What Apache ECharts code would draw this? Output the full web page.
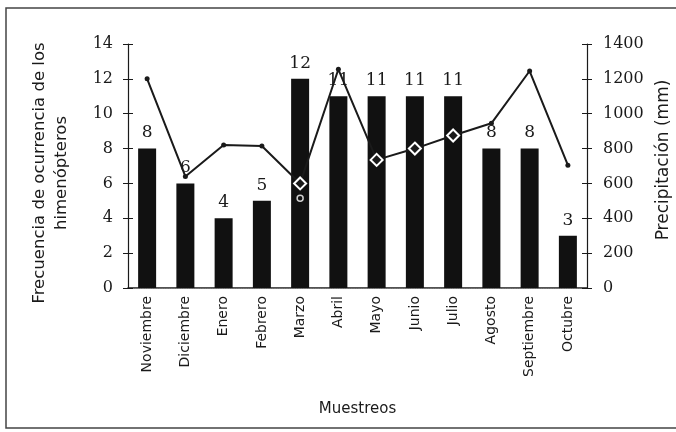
<!DOCTYPE html>
<html>
<head>
<meta charset="utf-8">
<script src="https://cdn.jsdelivr.net/npm/echarts@6/dist/echarts.min.js"></script>
<style>html,body{margin:0;padding:0;background:#fff}#c{width:676px;height:432px}</style>
</head>
<body>
<div id="c"></div>
<script>
var categories = ['Noviembre','Diciembre','Enero','Febrero','Marzo','Abril','Mayo','Junio','Julio','Agosto','Septiembre','Octubre'];
var frecuencia = [8, 6, 4, 5, 12, 11, 11, 11, 11, 8, 8, 3];
var precipitacion = [1200, 640, 820, 815, 600, 1255, 735, 800, 875, 945, 1245, 705];
var markerKinds = ['dot','dot','dot','dot','diamond','dot','diamond','diamond','diamond','dot','dot','dot'];
var extraPoint = [['Marzo', 515]];
var leftTicks = [0, 2, 4, 6, 8, 10, 12, 14];
var rightTicks = [0, 200, 400, 600, 800, 1000, 1200, 1400];

var serif = '"DejaVu Serif", serif';
var sans = '"DejaVu Sans", sans-serif';
var ink = '#1a1a1a';

var lineData = precipitacion.map(function (v, i) {
  var d = markerKinds[i] === 'diamond';
  return {
    value: v,
    symbol: d ? 'diamond' : 'circle',
    symbolSize: d ? 12 : 5,
    itemStyle: d ? {color: ink, borderColor: '#fff', borderWidth: 2} : {color: ink, borderColor: ink, borderWidth: 0}
  };
});

var chart = echarts.init(document.getElementById('c'));
chart.setOption({
  animation: false,
  backgroundColor: '#fff',
  graphic: [{
    type: 'polyline',
    shape: {points: [[680, 8], [6, 8], [6, 428], [680, 428]]},
    style: {stroke: '#444', lineWidth: 1.5, fill: null},
    silent: true
  }],
  grid: {left: 128, right: 89, top: 44, bottom: 144, containLabel: false, outerBoundsMode: 'none'},
  xAxis: [{
    type: 'category',
    data: categories,
    axisLine: {lineStyle: {color: ink, width: 1.5}},
    axisTick: {show: false},
    axisLabel: {rotate: 90, fontFamily: sans, fontSize: 14, color: ink, margin: 8},
    name: 'Muestreos',
    nameLocation: 'middle',
    nameGap: 114,
    nameTextStyle: {fontFamily: sans, fontSize: 15, color: ink}
  }, {
    type: 'category',
    data: categories,
    position: 'top',
    axisLine: {lineStyle: {color: '#777', width: 1.2, type: 'dotted'}},
    axisTick: {show: false},
    axisLabel: {show: false}
  }],
  yAxis: [{
    type: 'value', min: 0, max: 14, interval: 2,
    position: 'left',
    axisLine: {show: true, lineStyle: {color: ink, width: 1.2}},
    axisTick: {show: true, length: 5, lineStyle: {color: ink}},
    splitLine: {show: false},
    axisLabel: {fontFamily: serif, fontSize: 16, color: ink, margin: 15,
      formatter: function (v) { return leftTicks.indexOf(v) >= 0 ? String(v) : ''; }},
    name: 'Frecuencia de ocurrencia de los\nhimenópteros',
    nameLocation: 'middle',
    nameGap: 55,
    nameTextStyle: {fontFamily: sans, fontSize: 16.5, color: ink, lineHeight: 22, padding: [0, 14, 0, 0]}
  }, {
    type: 'value', min: 0, max: 1400, interval: 200,
    position: 'right',
    axisLine: {show: true, lineStyle: {color: ink, width: 1.2}},
    axisTick: {show: true, length: 5, lineStyle: {color: ink}},
    splitLine: {show: false},
    axisLabel: {fontFamily: serif, fontSize: 16, color: ink, margin: 16,
      formatter: function (v) { return rightTicks.indexOf(v) >= 0 ? String(v) : ''; }},
    name: 'Precipitación (mm)',
    nameLocation: 'middle',
    nameGap: 66,
    nameTextStyle: {fontFamily: sans, fontSize: 17, color: ink, padding: [0, 0, 0, 12]}
  }, {
    type: 'value', min: 0, max: 14, interval: 2,
    position: 'left',
    axisLine: {show: false},
    axisTick: {show: true, inside: true, length: 5, lineStyle: {color: ink}},
    splitLine: {show: false},
    axisLabel: {show: false}
  }, {
    type: 'value', min: 0, max: 1400, interval: 200,
    position: 'right',
    axisLine: {show: false},
    axisTick: {show: true, inside: true, length: 5, lineStyle: {color: ink}},
    splitLine: {show: false},
    axisLabel: {show: false}
  }],
  series: [{
    type: 'bar',
    data: frecuencia,
    xAxisIndex: 0, yAxisIndex: 0,
    barWidth: 18,
    itemStyle: {color: '#111'},
    label: {show: true, position: 'top', distance: 7, fontFamily: serif, fontSize: 17, color: ink}
  }, {
    type: 'line',
    data: lineData,
    xAxisIndex: 0, yAxisIndex: 1,
    lineStyle: {color: ink, width: 2},
    z: 5
  }, {
    type: 'scatter',
    data: extraPoint,
    xAxisIndex: 0, yAxisIndex: 1,
    symbol: 'circle',
    symbolSize: 6,
    itemStyle: {color: '#111', borderColor: '#fff', borderWidth: 1.5},
    z: 6
  }]
});
</script>
</body>
</html>
